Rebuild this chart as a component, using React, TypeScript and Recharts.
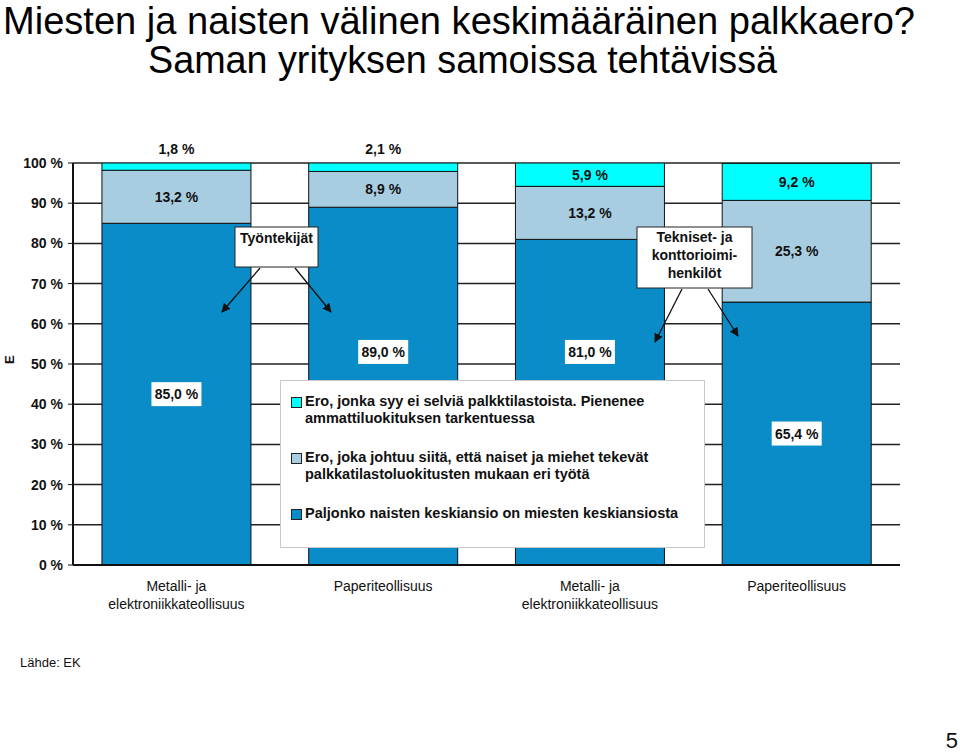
import React from "react";
import {
  BarChart,
  Bar,
  XAxis,
  YAxis,
  CartesianGrid,
  Legend,
  LabelList,
} from "recharts";

// categories (x axis), each split into display lines
const categories: string[][] = [
  ["Metalli- ja", "elektroniikkateollisuus"],
  ["Paperiteollisuus"],
  ["Metalli- ja", "elektroniikkateollisuus"],
  ["Paperiteollisuus"],
];

// series values, %
const womenShare = [85.0, 89.0, 81.0, 65.4];
const occupationGap = [13.2, 8.9, 13.2, 25.3];
const unexplainedGap = [1.8, 2.1, 5.9, 9.2];

const yTicks = [0, 10, 20, 30, 40, 50, 60, 70, 80, 90, 100];

const seriesNames = {
  women: "Paljonko naisten keskiansio on miesten keskiansiosta",
  occupation:
    "Ero, joka johtuu siitä, että naiset ja miehet tekevät\npalkkatilastoluokitusten mukaan eri työtä",
  unexplained:
    "Ero, jonka syy ei selviä palkktilastoista. Pienenee\nammattiluokituksen tarkentuessa",
};
const legendOrder = ["unexplained", "occupation", "women"];

const DARK = "#0a8cc8";
const LIGHT = "#a8cde1";
const CYAN = "#00ffff";
const FONT = "'Liberation Sans', Arial, Helvetica, sans-serif";

const data = categories.map((c, i) => ({
  key: i,
  women: womenShare[i],
  occupation: occupationGap[i],
  unexplained: unexplainedGap[i],
}));

const fmt = (v: number) => v.toFixed(1).replace(".", ",") + " %";

// categories where the legend box covers the lower part of the bar
const raisedLabels = [1, 2];
const RAISED_LEVEL = 53;

const DarkLabel = (props: any) => {
  const { x, y, width, height, value, index } = props;
  const cx = x + width / 2;
  let cy = y + height / 2;
  if (raisedLabels.includes(index)) {
    cy = y + height - (height * RAISED_LEVEL) / value;
  }
  return (
    <g>
      <rect x={cx - 25} y={cy - 12} width={50} height={24} fill="#fff" />
      <text
        x={cx}
        y={cy}
        textAnchor="middle"
        dominantBaseline="central"
        fontFamily={FONT}
        fontWeight="bold"
        fontSize={14}
        fill="#111"
      >
        {fmt(value)}
      </text>
    </g>
  );
};

const CenterLabel = (props: any) => {
  const { x, y, width, height, value } = props;
  const cx = x + width / 2;
  const cy = height < 14 ? y - 14 : y + height / 2;
  return (
    <text
      x={cx}
      y={cy}
      textAnchor="middle"
      dominantBaseline="central"
      fontFamily={FONT}
      fontWeight="bold"
      fontSize={14}
      fill="#111"
    >
      {fmt(value)}
    </text>
  );
};

const CategoryTick = (props: any) => {
  const { x, y, payload } = props;
  const lines = categories[payload.value] || [];
  return (
    <text
      x={x}
      y={y}
      textAnchor="middle"
      fontFamily={FONT}
      fontSize={14}
      fill="#111"
    >
      {lines.map((l, i) => (
        <tspan key={i} x={x} dy={18}>
          {l}
        </tspan>
      ))}
    </text>
  );
};

const LegendBox = (props: any) => {
  const items = legendOrder
    .map((k) => (props.payload || []).find((p: any) => p.dataKey === k))
    .filter(Boolean);
  return (
    <div
      style={{
        width: 425,
        height: 168,
        background: "#fff",
        border: "1px solid #c8c8c8",
        boxSizing: "border-box",
        paddingTop: 12,
        fontFamily: FONT,
        fontWeight: "bold",
        fontSize: 14.5,
        color: "#111",
        textAlign: "left",
      }}
    >
      {items.map((it: any, i: number) => (
        <div key={i} style={{ height: 56, position: "relative", paddingLeft: 24 }}>
          <div
            style={{
              position: "absolute",
              left: 10,
              top: 4,
              width: 9,
              height: 9,
              background: it.color,
              border: "1px solid #222",
            }}
          />
          {String(it.value)
            .split("\n")
            .map((l: string, j: number) => (
              <div key={j} style={{ lineHeight: "17px", whiteSpace: "nowrap" }}>
                {l}
              </div>
            ))}
        </div>
      ))}
    </div>
  );
};

export default function App() {
  return (
    <div
      style={{
        position: "absolute",
        left: 0,
        top: 0,
        width: 960,
        height: 754,
        background: "#fff",
        overflow: "hidden",
      }}
    >
      <BarChart
        width={960}
        height={754}
        data={data}
        margin={{ top: 163, right: 60, bottom: 140, left: 0 }}
        barCategoryGap="14%"
      >
        <CartesianGrid horizontal vertical={false} stroke="#222" strokeWidth={1.5} />
        <XAxis
          dataKey="key"
          tick={<CategoryTick />}
          tickLine={false}
          axisLine={{ stroke: "#111", strokeWidth: 2 }}
          interval={0}
          height={49}
        />
        <YAxis
          domain={[0, 100]}
          allowDataOverflow
          ticks={yTicks}
          tickFormatter={(v: number) => v + " %"}
          tick={{ fill: "#111", fontSize: 14, fontWeight: "bold", fontFamily: FONT }}
          tickLine={{ stroke: "#111" }}
          tickSize={5}
          tickMargin={5}
          axisLine={{ stroke: "#111", strokeWidth: 2 }}
          width={73}
          label={{
            value: "E",
            angle: -90,
            position: "insideLeft",
            offset: 9,
            style: { fontFamily: FONT, fontWeight: "bold", fontSize: 13, fill: "#111" },
          }}
        />
        <YAxis
          yAxisId="frame"
          orientation="right"
          tick={false}
          tickLine={false}
          axisLine={{ stroke: "#111", strokeWidth: 2 }}
          width={0}
        />
        <Legend
          layout="vertical"
          align="center"
          verticalAlign="middle"
          content={<LegendBox />}
          wrapperStyle={{ left: 280, top: 380, width: 425, height: 168 }}
        />
        <Bar
          dataKey="women"
          name={seriesNames.women}
          stackId="a"
          fill={DARK}
          stroke="#111"
          strokeWidth={1}
          isAnimationActive={false}
        >
          <LabelList dataKey="women" content={<DarkLabel />} />
        </Bar>
        <Bar
          dataKey="occupation"
          name={seriesNames.occupation}
          stackId="a"
          fill={LIGHT}
          stroke="#111"
          strokeWidth={1}
          isAnimationActive={false}
        >
          <LabelList dataKey="occupation" content={<CenterLabel />} />
        </Bar>
        <Bar
          dataKey="unexplained"
          name={seriesNames.unexplained}
          stackId="a"
          fill={CYAN}
          stroke="#111"
          strokeWidth={1}
          isAnimationActive={false}
        >
          <LabelList dataKey="unexplained" content={<CenterLabel />} />
        </Bar>
      </BarChart>

      <svg
        width={960}
        height={754}
        style={{ position: "absolute", left: 0, top: 0, pointerEvents: "none" }}
        fontFamily={FONT}
      >
        <defs>
          <marker
            id="arrow"
            viewBox="0 0 10 10"
            refX="9"
            refY="5"
            markerWidth="7"
            markerHeight="7"
            orient="auto"
          >
            <path d="M0,0 L10,5 L0,10 z" fill="#111" />
          </marker>
        </defs>
        <text x={3} y={34} fontSize={38} fill="#000" textLength={912} lengthAdjust="spacingAndGlyphs">
          Miesten ja naisten välinen keskimääräinen palkkaero?
        </text>
        <text x={148} y={73} fontSize={38} fill="#000" textLength={629} lengthAdjust="spacingAndGlyphs">
          Saman yrityksen samoissa tehtävissä
        </text>

        <rect x={235} y={227} width={83} height={40} fill="#fff" stroke="#222" strokeWidth={1} />
        <text x={276.5} y={243} textAnchor="middle" fontSize={14} fontWeight="bold" fill="#111">
          Työntekijät
        </text>
        <line x1={260} y1={268} x2={222} y2={312} stroke="#111" strokeWidth={1.3} markerEnd="url(#arrow)" />
        <line x1={295} y1={268} x2={331} y2={312} stroke="#111" strokeWidth={1.3} markerEnd="url(#arrow)" />

        <rect x={637} y={227} width={115} height={61} fill="#fff" stroke="#222" strokeWidth={1} />
        <text textAnchor="middle" fontSize={14} fontWeight="bold" fill="#111">
          <tspan x={694.5} y={242}>Tekniset- ja</tspan>
          <tspan x={694.5} y={260}>konttorioimi-</tspan>
          <tspan x={694.5} y={278}>henkilöt</tspan>
        </text>
        <line x1={682} y1={289} x2={655} y2={342} stroke="#111" strokeWidth={1.3} markerEnd="url(#arrow)" />
        <line x1={708} y1={289} x2={738} y2={336} stroke="#111" strokeWidth={1.3} markerEnd="url(#arrow)" />

        <text x={20} y={667} fontSize={13} fill="#111">
          Lähde: EK
        </text>
        <text x={958} y={748} textAnchor="end" fontSize={22} fill="#111">
          5
        </text>
      </svg>
    </div>
  );
}
